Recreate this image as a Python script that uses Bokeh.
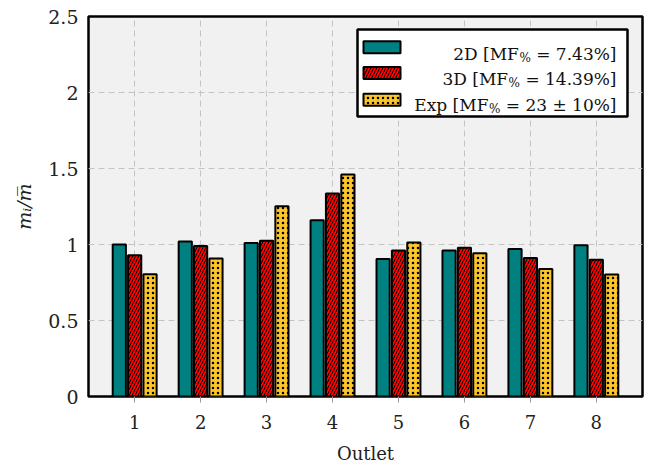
from bokeh.plotting import figure
from bokeh.models import Range1d, FixedTicker, BoxAnnotation, Label
from bokeh.embed import file_html
from bokeh.resources import INLINE

# ---------------- data ----------------
outlets = [1, 2, 3, 4, 5, 6, 7, 8]
vals_2d = [1.00, 1.02, 1.01, 1.16, 0.905, 0.96, 0.97, 0.995]
vals_3d = [0.93, 0.99, 1.025, 1.335, 0.96, 0.978, 0.912, 0.90]
vals_exp = [0.805, 0.908, 1.252, 1.46, 1.013, 0.943, 0.838, 0.803]
y_ticks = [0, 0.5, 1, 1.5, 2, 2.5]
y_tick_labels = ["0", "0.5", "1", "1.5", "2", "2.5"]
legend_parts = [
    ("2D [MF", "%", "\u00a0= 7.43%]"),
    ("3D [MF", "%", "\u00a0= 14.39%]"),
    ("Exp [MF", "%", "\u00a0= 23 \u00b1 10%]"),
]
x_label = "Outlet"
y_label = "m\u1d62/m\u0305"

# ---------------- styles ----------------
C2D, C3D, CEXP = "#008080", "#ff0000", "#fcc52c"
FONT = "DejaVu Serif"
W, H = 645, 466
FL, FR, FT, FB = 88, 642, 16, 396
XR = (0.3, 8.7)
YR = (0.0, 2.5)

p = figure(width=W, height=H, x_range=Range1d(*XR), y_range=Range1d(*YR),
           output_backend="svg", toolbar_location=None,
           min_border_left=FL, min_border_right=W - FR,
           min_border_top=FT, min_border_bottom=H - FB,
           background_fill_color="#f1f1f1", border_fill_color="white")

p.outline_line_color = "black"
p.outline_line_width = 2.5

off, bw = 0.233, 0.2
common = dict(width=bw, line_color="black", line_width=2)
RED_HATCH = dict(hatch_pattern="/", hatch_color="black", hatch_scale=6, hatch_weight=1.0)
YEL_HATCH = dict(hatch_pattern=".", hatch_color="black", hatch_scale=5, hatch_weight=2.5)
p.vbar(x=[o - off for o in outlets], top=vals_2d, fill_color=C2D, **common)
p.vbar(x=outlets, top=vals_3d, fill_color=C3D, **RED_HATCH, **common)
p.vbar(x=[o + off for o in outlets], top=vals_exp, fill_color=CEXP, **YEL_HATCH, **common)

# axes
p.xaxis.ticker = FixedTicker(ticks=outlets)
p.yaxis.ticker = FixedTicker(ticks=y_ticks)
p.yaxis.major_label_overrides = {float(t): l for t, l in zip(y_ticks, y_tick_labels)}
for ax in (p.xaxis[0], p.yaxis[0]):
    ax.axis_line_color = None
    ax.major_tick_line_color = "#999999"
    ax.major_tick_in = 0
    ax.major_tick_out = 6
    ax.minor_tick_line_color = None
    ax.major_label_text_font = FONT
    ax.major_label_text_font_size = "19px"
    ax.major_label_text_color = "#222222"
    ax.axis_label_text_font = FONT
    ax.axis_label_text_font_size = "19px"
    ax.axis_label_text_font_style = "normal"
    ax.axis_label_text_color = "#222222"
p.yaxis.major_tick_out = 0
p.xaxis.axis_label = x_label
p.yaxis.axis_label = y_label
p.yaxis.axis_label_text_font_style = "italic"
p.xaxis.major_label_text_font_size = "18px"
p.xaxis.axis_label_text_font_size = "18px"
p.xaxis.major_label_standoff = 12
p.xaxis.axis_label_standoff = 11
p.yaxis.major_label_standoff = 10
p.yaxis.axis_label_standoff = 10

p.grid.grid_line_color = "#c4c4c4"
p.grid.grid_line_dash = "6 4"
p.grid.grid_line_width = 1

# ---------------- helpers (pixel -> data) ----------------
def dx(px):
    return XR[0] + (px - FL) / (FR - FL) * (XR[1] - XR[0])

def dy(py):
    return YR[0] + (FB - py) / (FB - FT) * (YR[1] - YR[0])

# ---------------- manual legend ----------------
p.add_layout(BoxAnnotation(left=dx(357), right=dx(627), top=dy(29), bottom=dy(116),
                           fill_color="white", fill_alpha=1, line_color="black",
                           line_width=2.5, line_alpha=1))

sw_styles = [dict(fill_color=C2D), dict(fill_color=C3D, **RED_HATCH),
             dict(fill_color=CEXP, **YEL_HATCH)]
row_c = [46.7, 72.5, 99.3]
baselines = [53.3, 78.8, 104.5]

WID = {" ": 0.318, "\u00a0": 0.318, "%": 0.950, ".": 0.318, "=": 0.838, "[": 0.390,
       "]": 0.390, "\u00b1": 0.838}
for d in "0123456789":
    WID[d] = 0.636

def tw(s, size):
    return sum(WID.get(c, 0.7) for c in s) * size

FS, SS = 17, 12
R = 616
for st, yc, bl, (pre, sub, suf) in zip(sw_styles, row_c, baselines, legend_parts):
    p.add_layout(BoxAnnotation(left=dx(363), right=dx(400), top=dy(yc - 6), bottom=dy(yc + 6),
                               fill_alpha=1, line_color="black", line_width=2, line_alpha=1, **st))
    x_suf = R
    x_sub = R - tw(suf, FS)
    x_pre = x_sub - tw(sub, SS) - 0.5
    p.add_layout(Label(x=dx(x_suf), y=dy(bl), text=suf, text_align="right",
                       text_baseline="alphabetic", text_font=FONT, text_font_size=f"{FS}px",
                       text_color="#111111"))
    p.add_layout(Label(x=dx(x_sub), y=dy(bl + 4), text=sub, text_align="right",
                       text_baseline="alphabetic", text_font=FONT, text_font_size=f"{SS}px",
                       text_color="#111111"))
    p.add_layout(Label(x=dx(x_pre), y=dy(bl), text=pre, text_align="right",
                       text_baseline="alphabetic", text_font=FONT, text_font_size=f"{FS}px",
                       text_color="#111111"))

open("out.html", "w").write(file_html(p, INLINE))
